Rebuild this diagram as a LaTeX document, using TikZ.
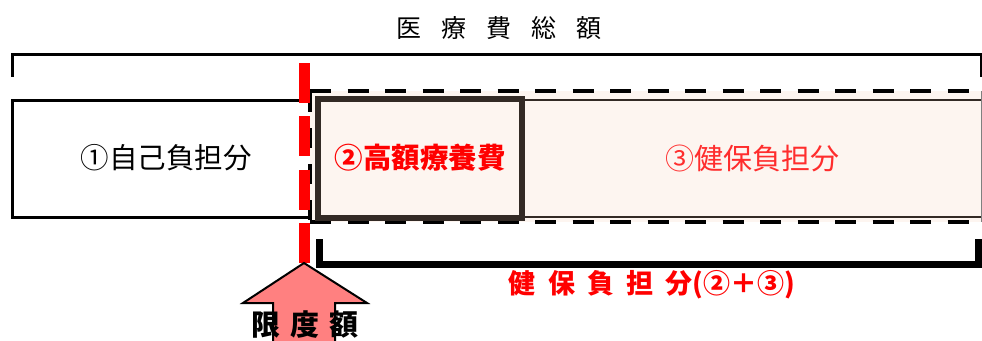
\documentclass[tikz,border=0pt]{standalone}
\usepackage{fontspec}
\usepackage{tikz}
\newfontfamily\jp{Noto Sans CJK JP}
\newcommand{\jgap}[1]{\hspace{#1em}}
\definecolor{pinkfill}{RGB}{253,245,240}
\definecolor{darkline}{RGB}{51,42,37}
\definecolor{arrowpink}{RGB}{255,128,128}
\definecolor{lightred}{RGB}{255,45,45}
\tikzset{
  label/.style={inner sep=0pt,font=\jp\fontsize{#1}{#1}\selectfont},
  brace/.style={line width=#1,line cap=rect},
}

\begin{document}
\begin{tikzpicture}[x=1pt,y=-1pt]
					\useasboundingbox (0,0) rectangle (982,340);
					% Rahmen fuer den Gesamtbetrag
					\draw[brace=3pt] (12,75) -- (12,54) -- (981,54) -- (981,75);
					\node[label=25] (total) at (499,28) {医\jgap{0.8}療\jgap{0.8}費\jgap{0.8}総\jgap{0.8}額};
					% Kasse: gestrichelter Bereich
					\fill[pinkfill] (310,91) rectangle (981,222);
					\draw[line width=4.5pt,dash pattern=on 21pt off 16.5pt] (310,91) -- (981,91);
					\draw[line width=4.5pt,dash pattern=on 21pt off 16.5pt] (310,222) -- (981,222);
					\draw[line width=4pt,dash pattern=on 20pt off 16pt] (310,92) -- (310,222);
					\draw[darkline,line width=2pt] (316,100) -- (981,100) (316,217) -- (981,217);
					\draw[gray,line width=1pt] (981,91) -- (981,222);
					% Eigenanteil
					\draw[line width=3pt] (310,100) -- (12,100) -- (12,217) -- (310,217);
					\node[label=28.5] (self) at (166,158) {①自己負担分};
					% Hochkostenanteil
					\draw[darkline,line width=6pt] (318,99) rectangle (522,218);
					\node[label=28.5,text=red] (kogaku) at (420,158) {\bfseries ②高額療養費};
					\node[label=29,text=lightred] (kenpo) at (752,158) {③健保負担分};
					% Grenze
					\draw[red,line width=11pt,dash pattern=on 40pt off 13.3pt] (304,63) -- (304,263);
					% untere Klammer
					\draw[brace=7pt] (319,242) -- (319,264) -- (978,264) -- (978,242);
					\node[label=27,text=red] (kenposum) at (652,285) {\bfseries 健\jgap{0.45}保\jgap{0.45}負\jgap{0.45}担\jgap{0.45}分(②＋③)};
					% Pfeil nach oben
					\coordinate (tip) at (304,263);
					\fill[arrowpink] (tip) -- (367,303) -- (335,303) -- (335,346) -- (273,346) -- (273,303) -- (243,303) -- cycle;
					\draw[line width=2pt,line join=miter] (335,346) -- (335,303) -- (367,303) -- (tip) -- (243,303) -- (273,303) -- (273,346);
					\node[label=29] (gendo) at (305,325) {\bfseries 限\jgap{0.35}度\jgap{0.35}額};
				\end{tikzpicture}
\end{document}
